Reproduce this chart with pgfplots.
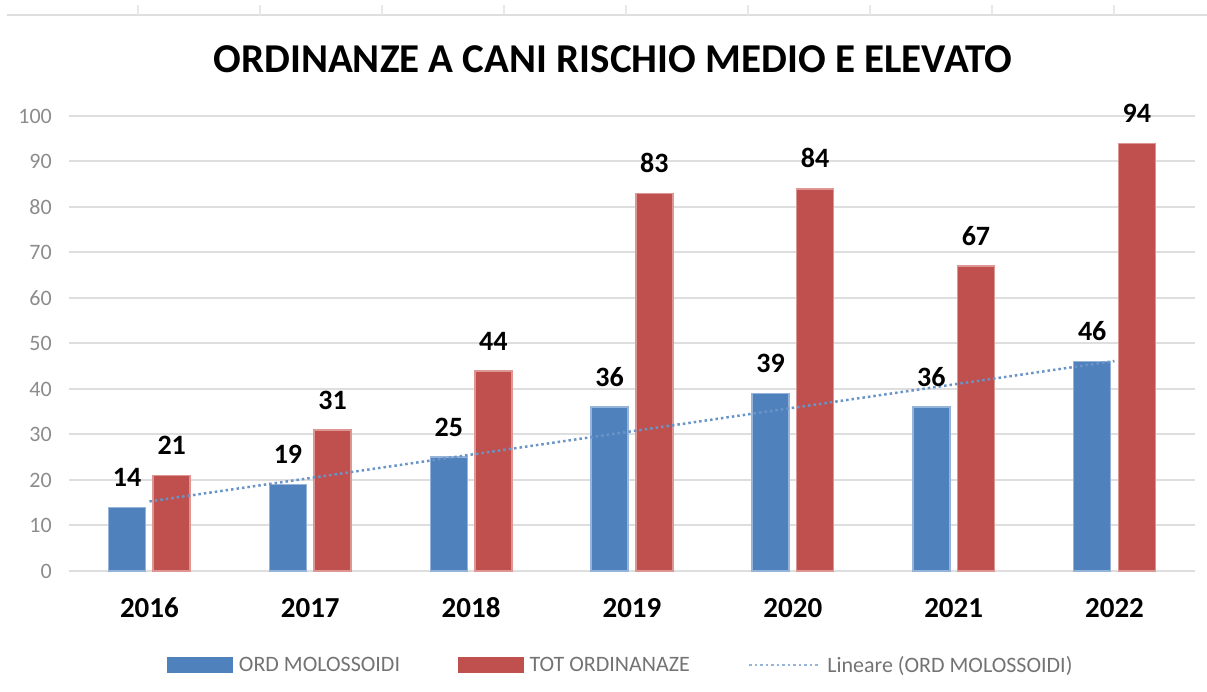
\documentclass[border=0pt]{standalone}
\usepackage{pgfplots}
\pgfplotsset{compat=1.18}
\usepackage{fontspec}
\setmainfont{Carlito}
\definecolor{barblue}{RGB}{79,129,189}
\definecolor{barred}{RGB}{192,80,77}
\definecolor{edgeblue}{RGB}{150,180,218}
\definecolor{edgered}{RGB}{222,150,148}
\definecolor{gridc}{RGB}{222,222,222}
\definecolor{ticktxt}{RGB}{140,140,140}
\definecolor{legtxt}{RGB}{115,115,115}
\begin{document}
\begin{tikzpicture}[x=1pt,y=1pt]
\path[use as bounding box] (0,0) rectangle (1207,692);
% spreadsheet cell borders at top
\draw[gridc, line width=2pt] (7,677) -- (1207,677);
\foreach \k in {0,...,8} {\draw[gridc!70, line width=2pt] ({138+122*\k},677) -- ({138+122*\k},687);}
\node[anchor=base, font=\bfseries\fontsize{41}{41}\selectfont, inner sep=0] at (613,619) {ORDINANZE A CANI RISCHIO MEDIO E ELEVATO};
\begin{axis}[
  at={(69pt,121pt)}, anchor=south west,
  scale only axis, width=1126pt, height=455pt,
  xmin=-0.5, xmax=6.5, ymin=0, ymax=100,
  ybar=7.6pt, bar width=37pt,
  clip=false,
  axis line style={draw=none},
  major tick length=0pt,
  xtick={0,...,6},
  xticklabels={2016,2017,2018,2019,2020,2021,2022},
  ytick={0,10,...,100},
  ymajorgrids, grid style={line width=2pt, gridc},
  /pgf/number format/assume math mode=true,
  yticklabel style={font=\fontsize{22}{22}\selectfont, text=ticktxt, anchor=east, inner sep=0pt, xshift=-17pt},
  xticklabel style={font=\bfseries\fontsize{29}{29}\selectfont, anchor=base, inner sep=0pt, yshift=-47pt},
  legend columns=3,
  legend style={draw=none, fill=none, at={(0.5,0)}, anchor=center, yshift=-94pt, xshift=-11pt,
    font=\fontsize{22}{22}\selectfont, text=legtxt,
    /tikz/every odd column/.append style={column sep=4pt},
    /tikz/every even column/.append style={column sep=56pt}},
  legend cell align=left,
  every node near coord/.append style={font=\bfseries\fontsize{28}{28}\selectfont, anchor=south, inner sep=0pt, yshift=20pt, text=black},
]
\addplot[fill=barblue, draw=edgeblue, line width=1.5pt, nodes near coords,
  legend image code/.code={\fill[barblue] (0pt,-7pt) rectangle (64pt,7pt);}]
  coordinates {(0,14) (1,19) (2,25) (3,36) (4,39) (5,36) (6,46)};
\addlegendentry{ORD MOLOSSOIDI}
\addplot[fill=barred, draw=edgered, line width=1.5pt, nodes near coords,
  legend image code/.code={\fill[barred] (0pt,-7pt) rectangle (64pt,7pt);}]
  coordinates {(0,21) (1,31) (2,44) (3,83) (4,84) (5,67) (6,94)};
\addlegendentry{TOT ORDINANAZE}
\addplot[sharp plot, barblue!85, line width=2.5pt, dash pattern=on 2.5pt off 3pt,
  legend image code/.code={\draw[barblue!60, line width=2.5pt, dash pattern=on 2.5pt off 3pt] (0pt,0pt) -- (71pt,0pt);}]
  coordinates {(0,15.29) (6,46.14)};
\addlegendentry{Lineare (ORD MOLOSSOIDI)}
\end{axis}
\end{tikzpicture}
\end{document}
